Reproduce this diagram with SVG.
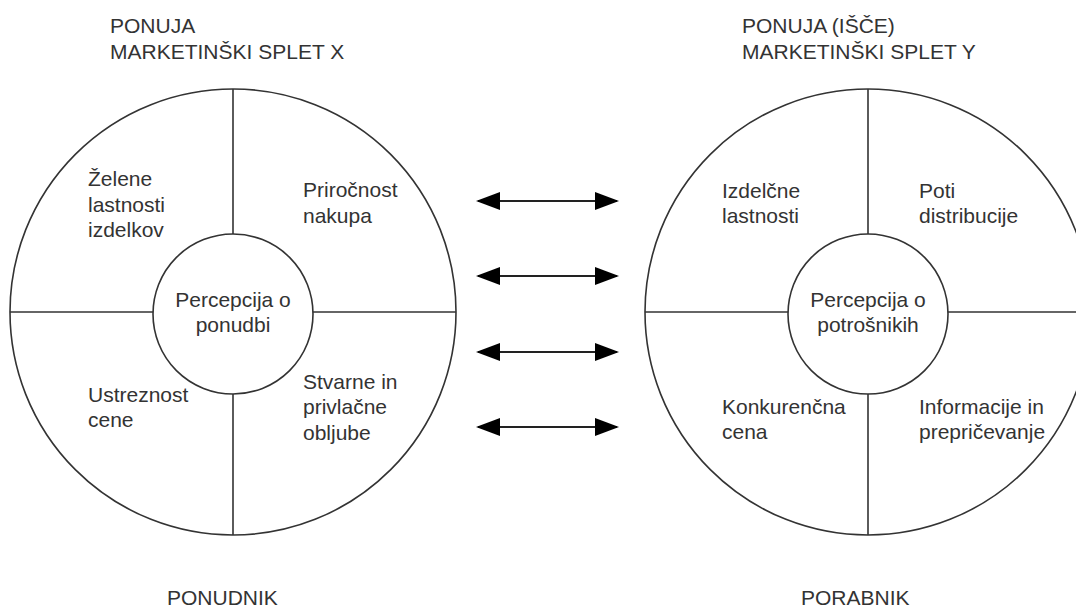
<svg xmlns="http://www.w3.org/2000/svg" width="1076" height="608" viewBox="0 0 1076 608">
<style>
.t{font-family:"Liberation Sans",Arial,sans-serif;font-size:21px;fill:#333}
.c{fill:none;stroke:#333;stroke-width:1.6}
.in{fill:#fff;stroke:#333;stroke-width:1.6}
.a{stroke:#222;stroke-width:2;marker-start:url(#ah);marker-end:url(#ah)}
</style>
<defs>
<marker id="ah" viewBox="0 0 24 18" refX="22" refY="9" markerWidth="24" markerHeight="18" markerUnits="userSpaceOnUse" orient="auto-start-reverse">
<path d="M0,0 L24,9 L0,18 Z" fill="#000"/>
</marker>
</defs>
<rect width="1076" height="608" fill="#fff"/>
<g id="titles">
<text class="t" x="110" y="33">PONUJA</text>
<text class="t" x="110" y="59">MARKETINŠKI SPLET X</text>
<text class="t" x="742" y="33">PONUJA (IŠČE)</text>
<text class="t" x="742" y="59">MARKETINŠKI SPLET Y</text>
<text class="t" x="167" y="605">PONUDNIK</text>
<text class="t" x="801" y="605">PORABNIK</text>
</g>
<g id="ponudnik">
<circle class="c" cx="233" cy="312" r="223"/>
<line class="c" x1="233" y1="89" x2="233" y2="535"/>
<line class="c" x1="10" y1="312" x2="456" y2="312"/>
<circle class="in" cx="233" cy="314" r="80"/>
<text class="t" x="88" y="186">Želene</text>
<text class="t" x="88" y="212">lastnosti</text>
<text class="t" x="88" y="237">izdelkov</text>
<text class="t" x="303" y="197">Priročnost</text>
<text class="t" x="303" y="223">nakupa</text>
<text class="t" x="233" y="307" text-anchor="middle">Percepcija o</text>
<text class="t" x="233" y="332" text-anchor="middle">ponudbi</text>
<text class="t" x="88" y="402">Ustreznost</text>
<text class="t" x="88" y="427">cene</text>
<text class="t" x="303" y="389">Stvarne in</text>
<text class="t" x="303" y="414">privlačne</text>
<text class="t" x="303" y="440">obljube</text>
</g>
<g id="porabnik">
<circle class="c" cx="868" cy="312" r="223"/>
<line class="c" x1="868" y1="89" x2="868" y2="535"/>
<line class="c" x1="645" y1="312" x2="1076" y2="312"/>
<circle class="in" cx="868" cy="314" r="80"/>
<text class="t" x="722" y="198">Izdelčne</text>
<text class="t" x="722" y="223">lastnosti</text>
<text class="t" x="919" y="198">Poti</text>
<text class="t" x="919" y="223">distribucije</text>
<text class="t" x="868" y="307" text-anchor="middle">Percepcija o</text>
<text class="t" x="868" y="332" text-anchor="middle">potrošnikih</text>
<text class="t" x="722" y="414">Konkurenčna</text>
<text class="t" x="722" y="439">cena</text>
<text class="t" x="919" y="414">Informacije in</text>
<text class="t" x="919" y="439">prepričevanje</text>
</g>
<g id="connectors">
<line class="a" x1="478" y1="201" x2="617" y2="201"/>
<line class="a" x1="478" y1="276" x2="617" y2="276"/>
<line class="a" x1="478" y1="352" x2="617" y2="352"/>
<line class="a" x1="478" y1="427" x2="617" y2="427"/>
</g>
</svg>
